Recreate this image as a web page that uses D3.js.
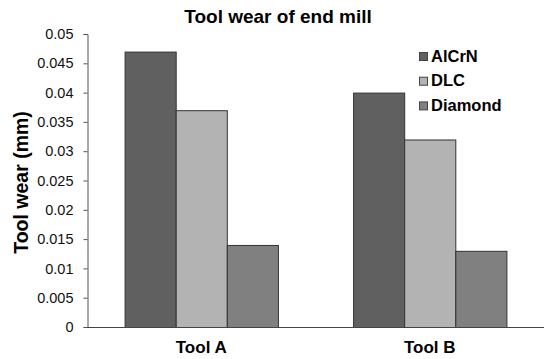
<!DOCTYPE html>
<html><head><meta charset="utf-8">
<script src="https://cdn.jsdelivr.net/npm/d3@7"></script>
<style>body{margin:0;background:#fff}svg{display:block}text{font-family:Arial,"Liberation Sans",sans-serif}</style>
</head><body><svg id="c" width="546" height="359"></svg>
<script>
const categories = ["Tool A", "Tool B"];
const seriesNames = ["AlCrN", "DLC", "Diamond"];
const AlCrN = [0.047, 0.040];
const DLC = [0.037, 0.032];
const Diamond = [0.014, 0.013];
const yTicks = [0, 0.005, 0.01, 0.015, 0.02, 0.025, 0.03, 0.035, 0.04, 0.045, 0.05];
const colors = ["#606060", "#b3b3b3", "#808080"];
const seriesValues = [AlCrN, DLC, Diamond];

const svg = d3.select("#c");
const W = 546, H = 359;
const m = {l: 87, r: 2, t: 34, b: 32};
const x0 = d3.scaleBand().domain(categories).range([m.l, W - m.r]).paddingInner(0.329).paddingOuter(0.1645);
const x1 = d3.scaleBand().domain(seriesNames).range([0, x0.bandwidth()]);
const y = d3.scaleLinear().domain([0, 0.05]).range([H - m.b, m.t]);

const g = svg.append("g");
categories.forEach((c, i) => {
  seriesNames.forEach((s, j) => {
    const v = seriesValues[j][i];
    g.append("rect")
      .attr("x", x0(c) + x1(s) + 0.5)
      .attr("y", y(v) + 0.5)
      .attr("width", x1.bandwidth())
      .attr("height", y(0) - y(v))
      .attr("fill", colors[j])
      .attr("stroke", "#333").attr("stroke-width", 1);
  });
});

const ya = svg.append("g").attr("transform", `translate(${m.l + 0.5},0)`)
  .call(d3.axisLeft(y).tickValues(yTicks).tickSize(4).tickPadding(10).tickFormat(d => d3.format("")(+d.toFixed(3))));
ya.select(".domain").attr("stroke", "#555");
ya.selectAll(".tick line").attr("stroke", "#555");
ya.selectAll(".tick text").attr("font-size", 14.5).attr("fill", "#111");

svg.append("line").attr("x1", m.l).attr("x2", W - m.r).attr("y1", y(0) + 0.5).attr("y2", y(0) + 0.5).attr("stroke", "#444");

categories.forEach(c => {
  svg.append("text").attr("x", x0(c) + x0.bandwidth() / 2).attr("y", 353)
    .attr("text-anchor", "middle").attr("font-size", 17).attr("font-weight", "bold").text(c);
});

svg.append("text").attr("x", 278).attr("y", 23).attr("text-anchor", "middle")
  .attr("font-size", 19).attr("font-weight", "bold").text("Tool wear of end mill");
svg.append("text").attr("transform", `translate(28,${(m.t + H - m.b) / 2 + 2}) rotate(-90)`)
  .attr("text-anchor", "middle").attr("font-size", 19.5).attr("font-weight", "bold").text("Tool wear (mm)");

const lg = svg.append("g");
seriesNames.forEach((s, j) => {
  const yy = 52 + j * 24.7;
  lg.append("rect").attr("x", 419.5).attr("y", yy + 0.5).attr("width", 8).attr("height", 8)
    .attr("fill", colors[j]).attr("stroke", "#444");
  lg.append("text").attr("x", 431).attr("y", yy + 9.5).attr("font-size", 16.5).attr("font-weight", "bold").text(s);
});
</script></body></html>
